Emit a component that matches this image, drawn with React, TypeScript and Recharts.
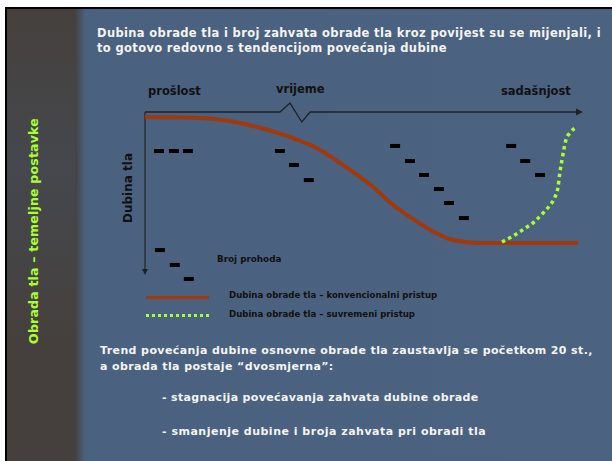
import React from "react"
import { ComposedChart, Line, Scatter, XAxis, YAxis, ReferenceLine } from "recharts"

// time axis: 0 = past, 100 = present; depth: 0 = surface, grows downward
const conventionalDepth = [
  { t: 0, d: 2.9 },
  { t: 12.6, d: 3.4 },
  { t: 19.4, d: 5.1 },
  { t: 25.6, d: 8.6 },
  { t: 33.1, d: 14.3 },
  { t: 40.0, d: 21.7 },
  { t: 44.5, d: 29.1 },
  { t: 49.1, d: 37.1 },
  { t: 52.1, d: 42.9 },
  { t: 56.6, d: 53.1 },
  { t: 60.5, d: 60.0 },
  { t: 64.4, d: 66.3 },
  { t: 68.9, d: 72.0 },
  { t: 73.1, d: 74.3 },
  { t: 76.5, d: 74.9 },
  { t: 98.9, d: 74.9 },
]

const modernDepth = [
  { t: 81.5, d: 74.3 },
  { t: 84.0, d: 70.9 },
  { t: 86.5, d: 66.9 },
  { t: 88.8, d: 62.9 },
  { t: 90.9, d: 57.7 },
  { t: 92.5, d: 53.1 },
  { t: 93.6, d: 48.6 },
  { t: 94.3, d: 42.9 },
  { t: 94.7, d: 34.9 },
  { t: 95.2, d: 27.4 },
  { t: 95.7, d: 20.6 },
  { t: 96.1, d: 16.0 },
  { t: 97.0, d: 12.0 },
  { t: 98.6, d: 8.6 },
]

// passes (Broj prohoda) shown as short dashes
const passes = [
  { t: 3.2, d: 22.3 },
  { t: 6.6, d: 22.3 },
  { t: 9.8, d: 22.3 },
  { t: 3.4, d: 78.9 },
  { t: 6.8, d: 87.4 },
  { t: 10.0, d: 95.4 },
  { t: 30.8, d: 22.3 },
  { t: 34.0, d: 30.3 },
  { t: 37.4, d: 38.9 },
  { t: 57.1, d: 19.4 },
  { t: 60.5, d: 28.0 },
  { t: 63.7, d: 36.0 },
  { t: 67.1, d: 44.0 },
  { t: 69.4, d: 52.0 },
  { t: 72.8, d: 60.6 },
  { t: 83.6, d: 19.4 },
  { t: 86.8, d: 28.0 },
  { t: 90.2, d: 36.0 },
]

// time axis with a break
const timeAxis = [
  { t: 0, d: 0 },
  { t: 30.8, d: 0 },
  { t: 33.1, d: -5.1 },
  { t: 35.8, d: 5.7 },
  { t: 37.7, d: 0 },
  { t: 99.3, d: 0 },
]

const arrowTips = [
  { t: 100, d: 0, dir: "right" },
  { t: 0, d: 93.1, dir: "down" },
]

const BROWN = "#a0390c"
const GREEN = "#aaff33"
const font = "'DejaVu Sans', Verdana, sans-serif"

function Dash(props: any) {
  const { cx, cy } = props
  return <rect x={cx - 5} y={cy - 2} width={10} height={4} fill="#000" />
}

function Arrow(props: any) {
  const { cx, cy, payload } = props
  if (payload.dir === "right") {
    return <polygon points={`${cx},${cy} ${cx - 7},${cy - 3.5} ${cx - 7},${cy + 3.5}`} fill="#1e2228" />
  }
  return <polygon points={`${cx},${cy} ${cx - 3},${cy - 6} ${cx + 3},${cy - 6}`} fill="#1e2228" />
}

const txt = (s: React.CSSProperties): React.CSSProperties => ({
  position: "absolute",
  whiteSpace: "nowrap",
  fontFamily: font,
  fontWeight: 700,
  ...s,
})

export default function App() {
  return (
    <div style={{ position: "fixed", left: 0, top: 0, width: 612, height: 461, background: "#fff", overflow: "hidden" }}>
      <div style={{ position: "absolute", left: 5, top: 7, width: 607, height: 454, background: "#000" }} />
      <div
        style={{
          position: "absolute",
          left: 7,
          top: 9,
          width: 605,
          height: 452,
          background: "linear-gradient(to right, #45403d 0px, #45403d 68px, #4a6180 78px, #4b6281 100%)",
        }}
      />
      <div
        style={{
          position: "absolute",
          left: 7,
          top: 9,
          width: 68,
          height: 452,
          background: "linear-gradient(to bottom, rgba(0,0,0,0) 0%, rgba(70,95,125,0.25) 35%, rgba(0,0,0,0) 75%)",
        }}
      />

      <div style={txt({ left: 33, top: 231, transform: "translate(-50%, -50%) rotate(-90deg)", color: GREEN, fontSize: 12.5, letterSpacing: 0.2 })}>
        Obrada tla – temeljne postavke
      </div>

      <div style={txt({ left: 97, top: 26, color: "#f4f4f4", fontSize: 11.5, letterSpacing: 0.35, lineHeight: "15px" })}>
        Dubina obrade tla i broj zahvata obrade tla kroz povijest su se mijenjali, i
        <br />
        to gotovo redovno s tendencijom povećanja dubine
      </div>

      <div style={txt({ left: 148, top: 84, color: "#111", fontSize: 11.5 })}>prošlost</div>
      <div style={txt({ left: 276, top: 82, color: "#111", fontSize: 11.5 })}>vrijeme</div>
      <div style={txt({ left: 501, top: 84, color: "#111", fontSize: 11.5 })}>sadašnjost</div>
      <div style={txt({ left: 128, top: 188, transform: "translate(-50%, -50%) rotate(-90deg)", color: "#111", fontSize: 12 })}>
        Dubina tla
      </div>
      <div style={txt({ left: 217, top: 254, color: "#111", fontSize: 8.8 })}>Broj prohoda</div>

      <ComposedChart
        width={612}
        height={461}
        style={{ position: "absolute", left: 0, top: 0 }}
        margin={{ left: 145, right: 29, top: 99.75, bottom: 174 }}
      >
        <XAxis dataKey="t" type="number" domain={[0, 100]} hide />
        <YAxis dataKey="d" type="number" domain={[-7, 100]} reversed hide />
        <ReferenceLine segment={[{ x: 0, y: 0 }, { x: 0, y: 91 }]} stroke="#2a3038" strokeWidth={1.5} />
        <Line
          data={timeAxis}
          dataKey="d"
          type="linear"
          stroke="#1e2228"
          strokeWidth={1.3}
          dot={false}
          isAnimationActive={false}
        />
        <Scatter data={arrowTips} shape={<Arrow />} isAnimationActive={false} />
        <Line
          data={conventionalDepth}
          dataKey="d"
          name="Dubina obrade tla – konvencionalni pristup"
          type="monotone"
          stroke={BROWN}
          strokeWidth={4}
          dot={false}
          isAnimationActive={false}
        />
        <Line
          data={modernDepth}
          dataKey="d"
          name="Dubina obrade tla – suvremeni pristup"
          type="monotone"
          stroke={GREEN}
          strokeWidth={3.5}
          strokeDasharray="3.5 3.5"
          dot={false}
          isAnimationActive={false}
        />
        <Scatter data={passes} shape={<Dash />} isAnimationActive={false} />
      </ComposedChart>

      {/* legend */}
      <svg style={{ position: "absolute", left: 140, top: 288 }} width={80} height={36}>
        <line x1={6} y1={9.5} x2={69} y2={9.5} stroke={BROWN} strokeWidth={3} />
        <line x1={6} y1={27.5} x2={69} y2={27.5} stroke={GREEN} strokeWidth={3} strokeDasharray="3 3" />
      </svg>
      <div style={txt({ left: 229, top: 290, color: "#111", fontSize: 8.6 })}>Dubina obrade tla – konvencionalni pristup</div>
      <div style={txt({ left: 229, top: 309, color: "#111", fontSize: 8.6 })}>Dubina obrade tla – suvremeni pristup</div>

      <div style={txt({ left: 100, top: 343, color: "#f4f4f4", fontSize: 11, letterSpacing: 0.4, lineHeight: "16px" })}>
        Trend povećanja dubine osnovne obrade tla zaustavlja se početkom 20 st.,
        <br />
        a obrada tla postaje “dvosmjerna”:
      </div>
      <div style={txt({ left: 162, top: 391, color: "#f4f4f4", fontSize: 11, letterSpacing: 0.35 })}>- stagnacija povećavanja zahvata dubine obrade</div>
      <div style={txt({ left: 162, top: 425, color: "#f4f4f4", fontSize: 11, letterSpacing: 0.5 })}>- smanjenje dubine i broja zahvata pri obradi tla</div>
    </div>
  )
}
